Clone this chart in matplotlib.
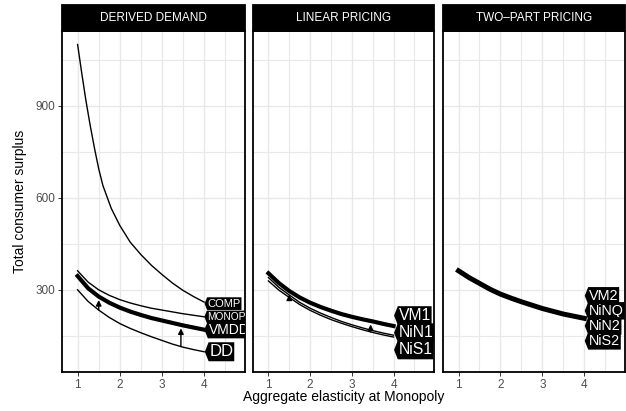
import numpy as np
import matplotlib
matplotlib.use("Agg")
import matplotlib.pyplot as plt
from matplotlib.path import Path
from matplotlib.transforms import ScaledTranslation

plt.rcParams['font.family'] = ['Liberation Sans', 'DejaVu Sans']

# elasticity grid used by most curves
elast = [1, 1.25, 1.5, 1.75, 2, 2.25, 2.5, 2.75, 3, 3.25, 3.5, 3.75, 4]

# derived demand panel
comp_elast = [1, 1.1, 1.2, 1.3, 1.4, 1.5, 1.6, 1.8, 2, 2.25, 2.5, 2.75, 3, 3.25, 3.5, 3.75, 4]
comp = [1100, 1005, 915, 835, 762, 695, 640, 565, 510, 455, 415, 380, 350, 322, 298, 278, 260]
monop = [362, 325, 300, 282, 268, 257, 248, 240, 234, 228, 222, 217, 212]
vmdd = [345, 305, 278, 258, 242, 229, 218, 208, 200, 192, 184, 177, 170]
dd = [300, 262, 234, 210, 190, 174, 160, 147, 135, 123, 113, 105, 98]

# linear pricing panel
vm1 = [354, 322, 296, 275, 258, 244, 232, 221, 212, 204, 197, 189, 182]
nin1 = [340, 308, 283, 259, 240, 224, 210, 197, 186, 176, 167, 159, 152]
nis1 = [329, 299, 275, 252, 233, 217, 203, 191, 180, 170, 161, 153, 146]

# two-part pricing panel (all four cases coincide)
two_part = [362, 340, 321, 302, 286, 273, 261, 250, 239, 230, 221, 214, 207]

panel_titles = ["DERIVED DEMAND", "LINEAR PRICING", "TWO\u2013PART PRICING"]
arrow_at = [1.5, 3.45]


def tag_box(x0, y0, width, height, mutation_size):
    padx = 0.05 * mutation_size
    pady = 0.12 * mutation_size
    x0, y0 = x0 - padx, y0 - pady
    x1, y1 = x0 + width + 2 * padx, y0 + height + 2 * pady
    tip = 0.2 * (y1 - y0)
    ym = (y0 + y1) / 2
    verts = [(x0, y0), (x1, y0), (x1, y1), (x0, y1), (x0 - tip, ym), (x0, y0), (x0, y0)]
    return Path(verts, closed=True)


def tag(ax, y, text, fs):
    off = 0.32 * fs / 72
    tr = ax.transData + ScaledTranslation(off, 0, ax.figure.dpi_scale_trans)
    ax.text(4.0, y, text, transform=tr, color='white', fontsize=fs, va='center', ha='left',
            clip_on=True, zorder=5,
            bbox=dict(boxstyle=tag_box, fc='black', ec='black', lw=0))


def up_arrow(ax, xs, low, high):
    for x in arrow_at:
        y0 = np.interp(x, xs, low)
        y1 = np.interp(x, xs, high)
        ax.annotate('', xy=(x, y1), xytext=(x, y0),
                    arrowprops=dict(arrowstyle='-|>', color='black', lw=1.0,
                                    mutation_scale=8, shrinkA=0, shrinkB=2.5))


fig = plt.figure(figsize=(6.26, 4.11), dpi=100)
W, H = 626, 411
panels_px = [(62, 245), (253, 434), (443, 625)]
top_px, bot_px = 31, 372
axes = []
for (l, r), title in zip(panels_px, panel_titles):
    ax = fig.add_axes([l / W, 1 - bot_px / H, (r - l) / W, (bot_px - top_px) / H])
    ax.set_xlim(0.63, 4.97)
    ax.set_ylim(32, 1144)
    ax.set_xticks([1, 2, 3, 4])
    ax.set_xticks([1.5, 2.5, 3.5, 4.5], minor=True)
    ax.set_yticks([300, 600, 900])
    ax.set_yticks([150, 450, 750, 1050], minor=True)
    ax.grid(True, which='major', color='#e8e8e8', lw=1.0)
    ax.grid(True, which='minor', color='#e8e8e8', lw=0.8)
    ax.set_axisbelow(True)
    ax.tick_params(which='major', length=3, width=0.7, color='#333333',
                   labelcolor='#4d4d4d', labelsize=8.5, pad=2)
    ax.tick_params(which='minor', length=0)
    for s in ax.spines.values():
        s.set_linewidth(1.3)
        s.set_color('black')
    h = (bot_px - top_px)
    ax.add_patch(plt.Rectangle((0, 1), 1, 26 / h, transform=ax.transAxes,
                               clip_on=False, fc='black', ec='black', lw=1.3))
    ax.text(0.5, 1 + 13 / h, title, transform=ax.transAxes, color='white',
            fontsize=8.5, ha='center', va='center')
    axes.append(ax)

for ax in axes[1:]:
    ax.tick_params(axis='y', which='both', left=False, labelleft=False)

# derived demand
ax = axes[0]
ax.plot(comp_elast, comp, color='black', lw=1.0)
ax.plot(elast, monop, color='black', lw=1.0)
ax.plot(elast, vmdd, color='black', lw=3.0)
ax.plot(elast, dd, color='black', lw=1.0)
up_arrow(ax, elast, dd, vmdd)
tag(ax, comp[-1] - 5, "COMP", 8)
tag(ax, monop[-1], "MONOP", 7.3)
tag(ax, vmdd[-1], "VMDD", 10)
tag(ax, dd[-1], "DD", 12)

# linear pricing
ax = axes[1]
ax.plot(elast, nis1, color='black', lw=1.0)
ax.plot(elast, nin1, color='black', lw=1.0)
ax.plot(elast, vm1, color='black', lw=3.0)
up_arrow(ax, elast, nis1, vm1)
names = ["VM1", "NiN1", "NiS1"]
centre = np.mean([vm1[-1], nin1[-1], nis1[-1]])
for i, n in enumerate(names):
    tag(ax, centre + (1 - i) * 56, n, 11.3)

# two-part pricing
ax = axes[2]
ax.plot(elast, two_part, color='black', lw=3.6)
names = ["VM2", "NiNQ", "NiN2", "NiS2"]
for i, n in enumerate(names):
    tag(ax, two_part[-1] + (1.5 - i) * 49, n, 10.4)

fig.text(344 / W, 1 - 397 / H, "Aggregate elasticity at Monopoly", fontsize=10,
         ha='center', va='center')
fig.text(20 / W, 1 - 201 / H, "Total consumer surplus", fontsize=10,
         ha='center', va='center', rotation=90)

fig.savefig('out.png', dpi=100)
